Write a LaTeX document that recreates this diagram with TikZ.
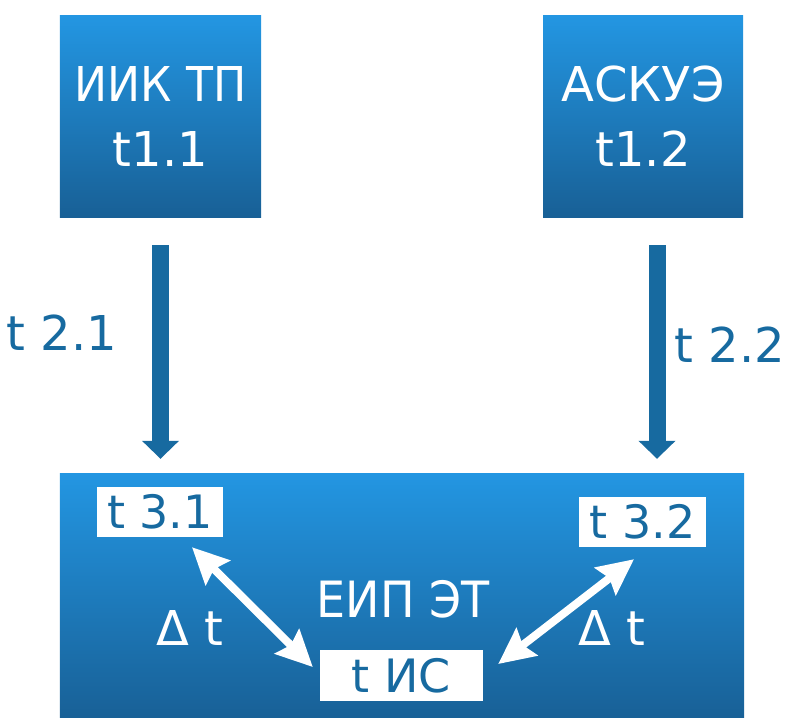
\documentclass[tikz,border=0pt]{standalone}
\usepackage{fontspec}
\setmainfont{DejaVu Sans}
\usetikzlibrary{arrows.meta,calc}
\definecolor{dblue}{RGB}{23,106,160}
\definecolor{gtop}{RGB}{35,150,226}
\definecolor{gbot}{RGB}{24,96,150}
\newcommand{\nx}[1]{\scalebox{0.92}[1]{#1}}
\begin{document}
\begin{tikzpicture}[x=1bp,y=-1bp,
  bluebox/.style={top color=gtop, bottom color=gbot, draw=none, inner sep=0pt,
    minimum width=201bp, minimum height=201bp, text=white, align=center,
    font=\fontsize{48bp}{65bp}\selectfont},
  bigbox/.style={top color=gtop, bottom color=gbot, draw=none, inner sep=0pt,
    minimum width=684bp, minimum height=247bp},
  whitebox/.style={fill=white, text=dblue, inner sep=0pt, minimum height=50bp,
    font=\fontsize{46bp}{50bp}\selectfont},
  vline/.style={draw=dblue, line width=17bp, -{Triangle[length=18bp,width=36bp]}},
  dline/.style={draw=white, line width=8bp,
    {Stealth[length=36bp,width=34bp,inset=5bp]}-{Stealth[length=36bp,width=34bp,inset=5bp]}},
  blbl/.style={text=dblue, inner sep=0pt, anchor=base, font=\fontsize{48bp}{50bp}\selectfont},
  wlbl/.style={text=white, inner sep=0pt, anchor=base, font=\fontsize{48bp}{50bp}\selectfont}
]
\useasboundingbox (0,0) rectangle (788,718);

% top boxes
\node[bluebox] (box1) at (160.5,116.5) {\nx{ИИК ТП}\\t1.1};
\node[bluebox, minimum width=200bp] (box2) at (643,116.5) {АСКУЭ\\t1.2};

% bottom box
\node[bigbox] (big) at (402,596.5) {};

% inner white boxes
\node[whitebox, minimum width=126bp] (t31) at (160,512) {t 3.1};
\node[whitebox, minimum width=127bp] (t32) at (642.5,522) {t 3.2};
\node[whitebox, minimum width=163bp, minimum height=51bp] (tIS) at (401.5,675.5) {t ИС};

% labels
\node[wlbl, font=\fontsize{50bp}{50bp}\selectfont] (eip) at (403,617) {\nx{ЕИП ЭТ}};
\node[wlbl] (dl) at (190,645) {Δ t};
\node[wlbl] (dr) at (612,645) {Δ t};
\node[blbl] (l21) at (62,350) {t 2.1};
\node[blbl] (l22) at (730,362) {t 2.2};

% vertical arrows
\draw[vline] ($(box1.south)+(0,28)$) -- ($(box1.south |- big.north)+(0,-14)$);
\draw[vline] ($(box2.south)+(14,28)$) -- ($(box2.south |- big.north)+(14,-14)$);

% double arrows
\coordinate (a1) at ($(t31.south)+(32,10)$);
\coordinate (a2) at ($(tIS.west)+(-7,-8.5)$);
\coordinate (b1) at ($(tIS.east)+(15,-11.5)$);
\coordinate (b2) at ($(t32.south)+(-8.5,12)$);
\draw[dline] (a1) -- (a2);
\draw[dline] (b1) -- (b2);
\end{tikzpicture}
\end{document}
